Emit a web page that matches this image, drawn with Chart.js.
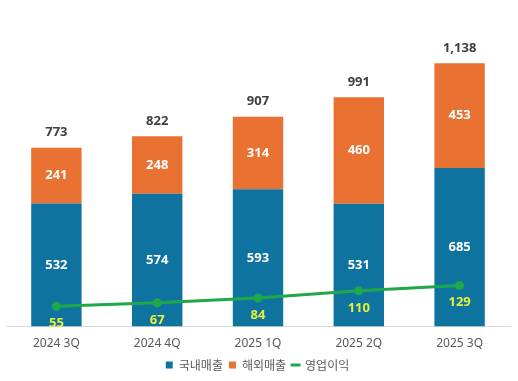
<!DOCTYPE html>
<html><head><meta charset="utf-8">
<script src="https://cdn.jsdelivr.net/npm/chart.js@4"></script>
<style>html,body{margin:0;padding:0;background:#fff}#wrap{width:518px;height:381px}</style>
</head><body><div id="wrap"><canvas id="c"></canvas></div>
<script>
const categories = ['2024 3Q','2024 4Q','2025 1Q','2025 2Q','2025 3Q'];
const domestic = [532, 574, 593, 531, 685];
const overseas = [241, 248, 314, 460, 453];
const totals = [773, 822, 907, 991, 1138];
const operatingProfit = [55, 67, 84, 110, 129];
const seriesNames = ['국내매출','해외매출','영업이익'];

const numFont = '"Open Sans","Noto Sans",sans-serif';
const labelPlugin = {
  id: 'valueLabels',
  afterDatasetsDraw(chart) {
    const ctx = chart.ctx;
    ctx.save();
    ctx.textAlign = 'center';
    ctx.textBaseline = 'middle';
    ctx.font = 'bold 13px ' + numFont;
    [0,1].forEach(di => {
      const meta = chart.getDatasetMeta(di);
      meta.data.forEach((el, i) => {
        const v = chart.data.datasets[di].data[i];
        ctx.fillStyle = '#ffffff';
        ctx.fillText(String(v), el.x, (el.y + el.base) / 2);
      });
    });
    const topMeta = chart.getDatasetMeta(1);
    topMeta.data.forEach((el, i) => {
      ctx.fillStyle = '#404040';
      ctx.fillText(totals[i].toLocaleString('en-US'), el.x, el.y - 15);
    });
    const lineMeta = chart.getDatasetMeta(2);
    lineMeta.data.forEach((el, i) => {
      ctx.fillStyle = '#e4f03a';
      ctx.fillText(String(operatingProfit[i]), el.x, el.y + 17);
    });
    ctx.restore();
  }
};

new Chart(document.getElementById('c'), {
  type: 'bar',
  data: {
    labels: categories,
    datasets: [
      {label: seriesNames[0], data: domestic, backgroundColor: '#0f73a0', yAxisID: 'y', stack: 's', order: 2},
      {label: seriesNames[1], data: overseas, backgroundColor: '#e97132', yAxisID: 'y', stack: 's', order: 2},
      {label: seriesNames[2], data: operatingProfit, type: 'line', yAxisID: 'y2', borderColor: '#1fa84a', backgroundColor: '#1fa84a', borderWidth: 3, pointRadius: 3, pointHoverRadius: 3, order: 1}
    ]
  },
  options: {
    responsive: true,
    maintainAspectRatio: false,
    animation: false,
    layout: {padding: {left: 5, right: 8, top: 0, bottom: 0}},
    datasets: {bar: {categoryPercentage: 0.5, barPercentage: 1}},
    scales: {
      x: {
        stacked: true,
        grid: {display: false},
        border: {display: true, color: '#d9d9d9', width: 1},
        ticks: {color: '#595959', font: {family: '"Noto Sans",sans-serif', size: 12}, padding: 2}
      },
      y: {stacked: true, display: false, min: 0, max: 1385},
      y2: {display: false, min: -18, max: 1129}
    },
    plugins: {
      tooltip: {enabled: false},
      legend: {
        position: 'bottom',
        labels: {
          usePointStyle: true,
          boxHeight: 7,
          boxWidth: 7,
          padding: 6,
          color: '#595959',
          font: {family: '"Noto Sans CJK KR",sans-serif', size: 12},
          sort: (a, b) => a.datasetIndex - b.datasetIndex,
          generateLabels(chart) {
            const items = Chart.defaults.plugins.legend.labels.generateLabels(chart);
            items.forEach(it => {
              if (it.datasetIndex === 2) { it.pointStyle = 'line'; it.lineWidth = 3; }
              else { it.pointStyle = 'rect'; it.lineWidth = 0; }
            });
            return items;
          }
        }
      }
    }
  },
  plugins: [labelPlugin]
});
</script></body></html>
